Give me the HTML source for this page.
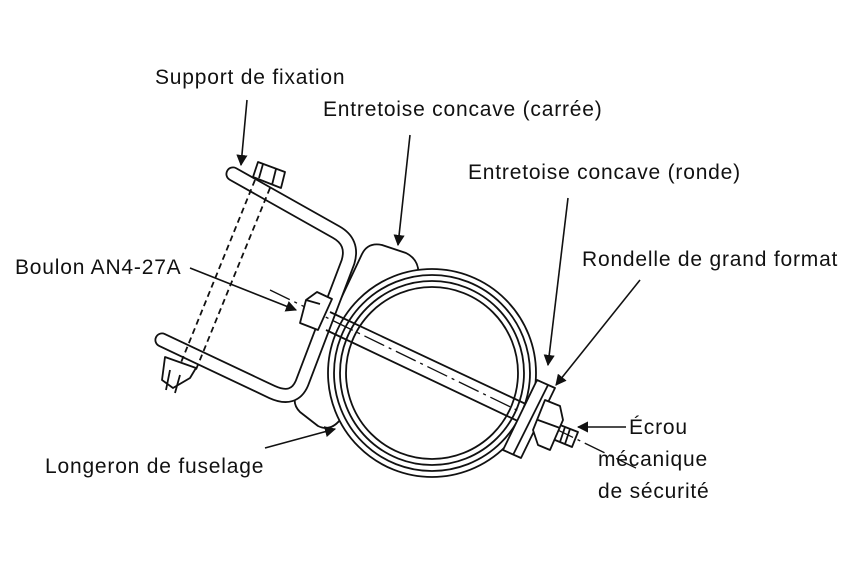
<!DOCTYPE html>
<html><head><style>
body{margin:0;background:#fff;}
svg{display:block}
text{font-family:"Liberation Sans",sans-serif;font-size:21px;letter-spacing:0.8px;fill:#111}
</style></head><body>
<svg width="864" height="562" viewBox="0 0 864 562" xmlns="http://www.w3.org/2000/svg">
<defs><marker id="a" viewBox="0 0 10 10" refX="9" refY="5" markerWidth="7" markerHeight="7" orient="auto"><path d="M0,0 L10,5 L0,10 z" fill="#111"/></marker></defs>
<g fill="none" stroke="#111" stroke-width="1.8" stroke-linejoin="round">
<!-- square spacer -->
<path d="M362,254 Q368,242 382,245 L406,253 Q416,258 418,268 L420,300 L340,420 Q330,432 318,426 L300,412 Q292,404 296,394 Z" fill="#fff"/>
<!-- ring -->
<circle cx="432" cy="373" r="104" fill="#fff"/>
<circle cx="432" cy="373" r="98"/>
<circle cx="432" cy="373" r="92"/>
<circle cx="432" cy="373" r="86"/>
<!-- bracket: outline by double stroke -->
<path d="M233,174 L336,232 Q354,242 348,262 L302,383 Q294,402 272,392 L162,340" stroke-width="15" stroke-linecap="round"/>
<path d="M233,174 L336,232 Q354,242 348,262 L302,383 Q294,402 272,392 L162,340" stroke="#fff" stroke-width="11.4" stroke-linecap="round"/>
<!-- dashed bolt -->
<path d="M255,180 L180,365 M270,188 L195,372" stroke-dasharray="6,4"/>
<!-- bolt head top -->
<path d="M258,162 L285,172 L281,188 L253,177 Z M263,164 L259,178 M276,169 L272,185" fill="#fff"/>
<!-- bottom nut -->
<path d="M165,357 L196,368 L190,378 L173,388 L162,380 Z M170,370 L166,390 M180,375 L175,393" />
<!-- bolt rod -->
<path d="M330,312 L530,406 M326,330 L522,423"/>
<path d="M270,290 L640,470" stroke-width="1.3" stroke-dasharray="22,5,3,5"/>
<!-- bolt head left -->
<path d="M317,292 L332,299 L318,330 L300,323 L306,300 Z M306,300 L320,304" fill="#fff"/>
<!-- washer -->
<path d="M537,380 L555,388 L521,458 L503,450 Z M548,385 L513,455" fill="#fff"/>
<!-- nut -->
<path d="M545,400 L560,406 L563,420 L550,450 L538,445 L533,430 Z M538,420 L560,428" fill="#fff"/>
<path d="M560,425 L578,432 L572,447 L555,440 M565,427 L560,442 M570,429 L565,444"/>
</g>
<g stroke="#111" stroke-width="1.6" fill="none" marker-end="url(#a)">
<line x1="247" y1="100" x2="241" y2="165"/>
<line x1="410" y1="135" x2="398" y2="245"/>
<line x1="568" y1="198" x2="548" y2="365"/>
<line x1="640" y1="280" x2="556" y2="385"/>
<line x1="190" y1="268" x2="296" y2="310"/>
<line x1="265" y1="448" x2="335" y2="429"/>
<line x1="626" y1="427" x2="578" y2="427"/>
</g>
<text x="155" y="84">Support de fixation</text>
<text x="323" y="116">Entretoise concave (carrée)</text>
<text x="468" y="179">Entretoise concave (ronde)</text>
<text x="582" y="266">Rondelle de grand format</text>
<text x="15" y="274">Boulon AN4-27A</text>
<text x="45" y="473">Longeron de fuselage</text>
<text x="629" y="434">Écrou</text>
<text x="598" y="466">mécanique</text>
<text x="598" y="498">de sécurité</text>
</svg>
</body></html>
